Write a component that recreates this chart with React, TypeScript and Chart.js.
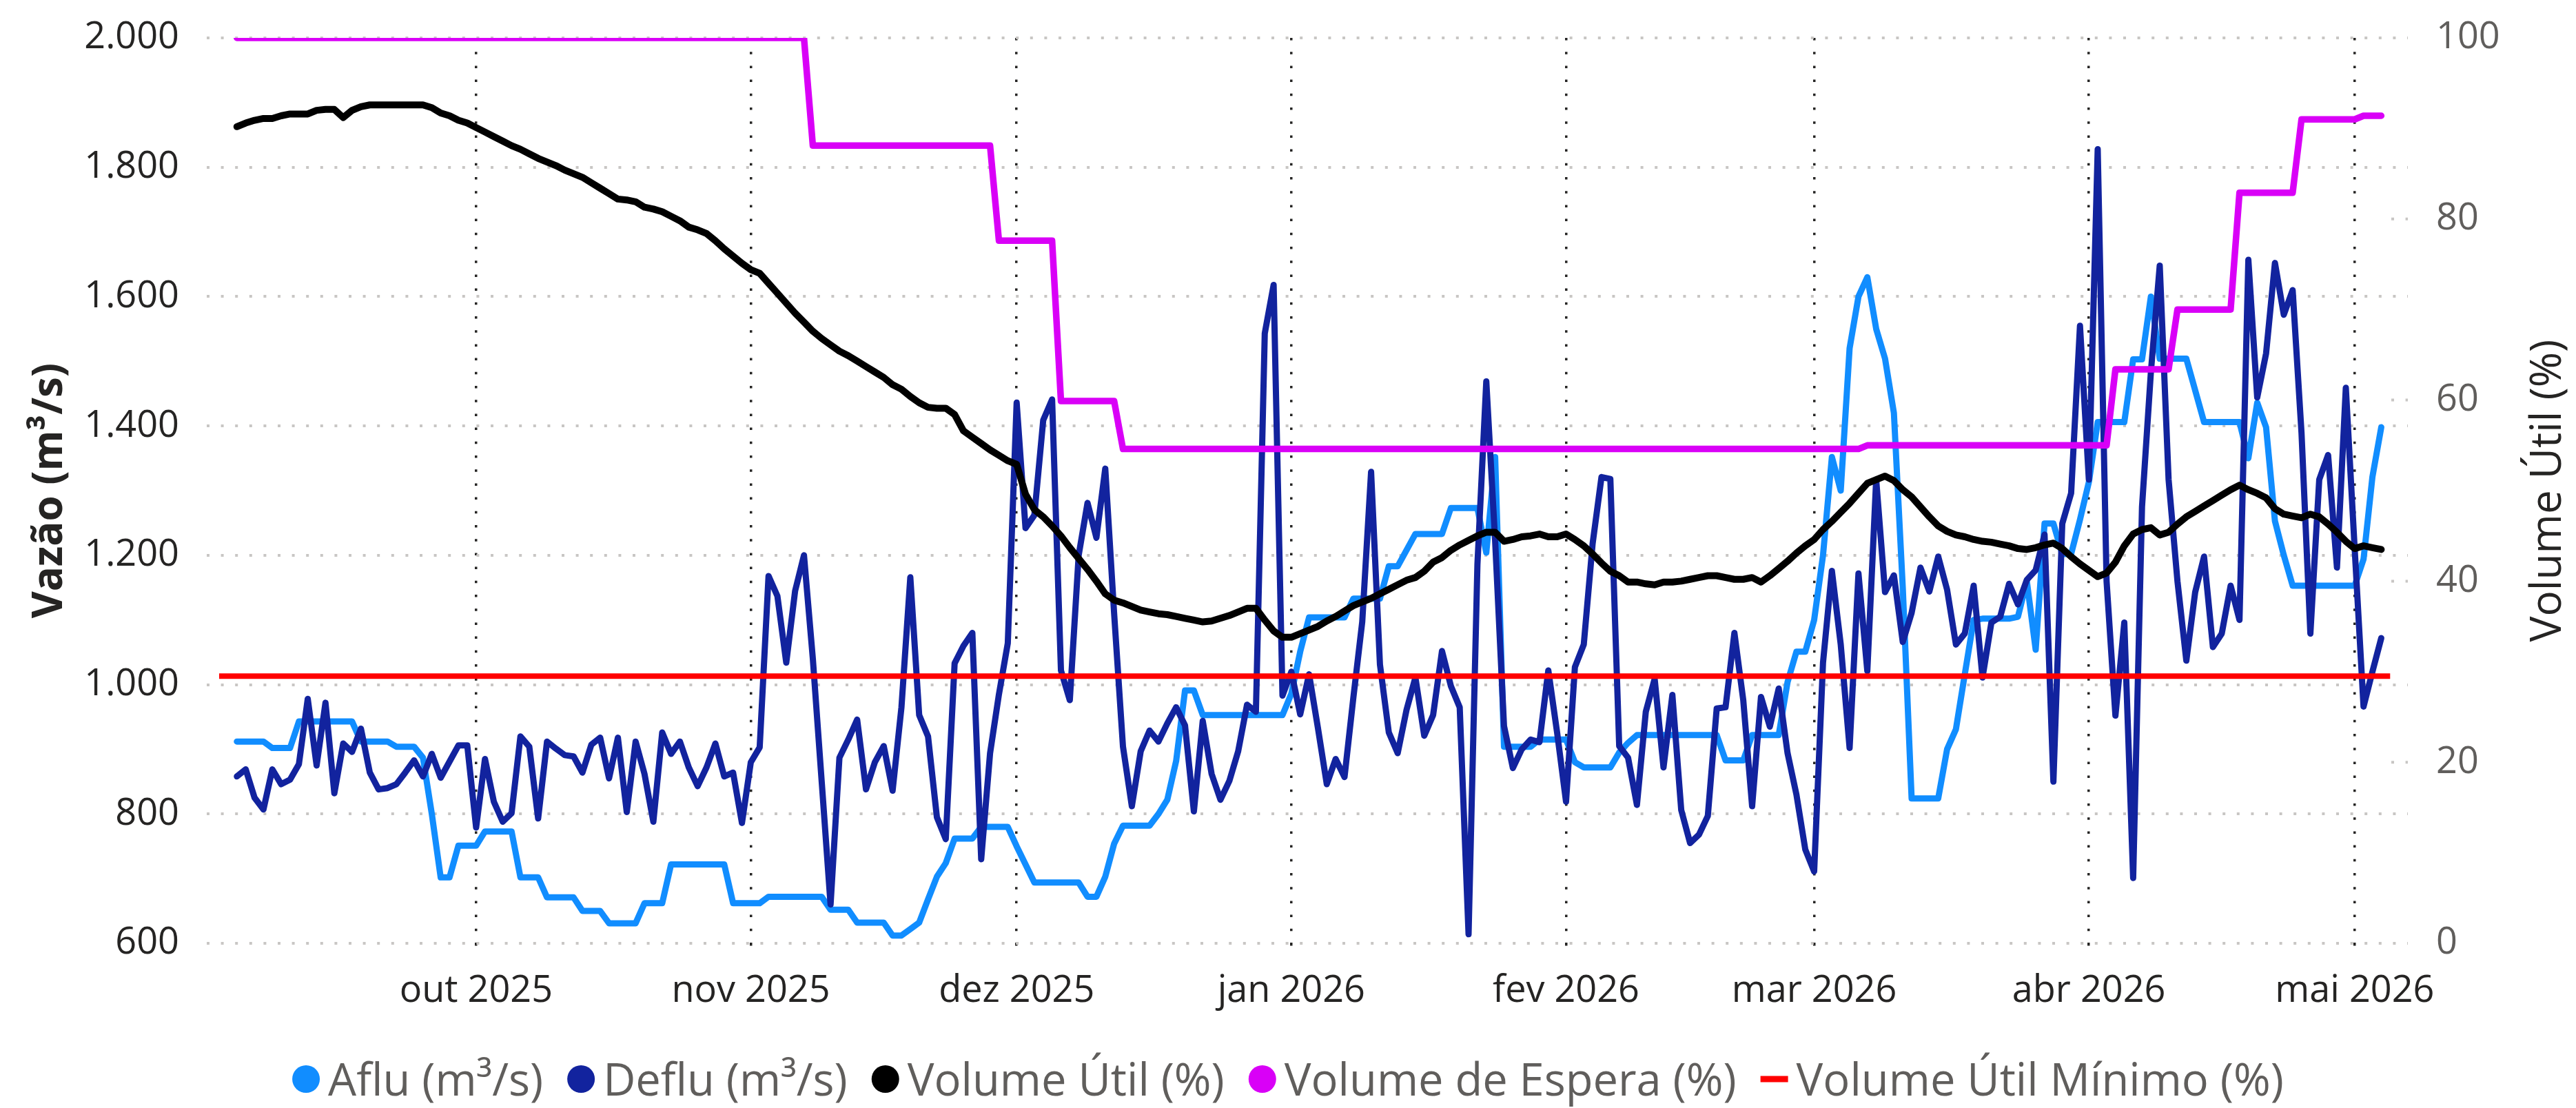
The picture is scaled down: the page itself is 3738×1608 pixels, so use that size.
import { useEffect, useRef } from 'react';
import { Chart, registerables } from 'chart.js';

Chart.register(...registerables);

const FONT = '"Segoe UI", "Open Sans", sans-serif';
const W = 3738;
const H = 1608;

// ---- categories / axis ----
const ORIGIN_DATE = '2025-10-01';
const START_DATE = '2025-09-04'; // first daily value
const MONTH_STARTS = ['2025-10-01', '2025-11-01', '2025-12-01', '2026-01-01', '2026-02-01', '2026-03-01', '2026-04-01', '2026-05-01'];
const MONTH_LABELS = ['out 2025', 'nov 2025', 'dez 2025', 'jan 2026', 'fev 2026', 'mar 2026', 'abr 2026', 'mai 2026'];
const MIN_LINE_DATES = ['2025-09-02', '2026-05-05'];
const VOLUME_UTIL_MINIMO = 29.5;

// ---- series (daily, from START_DATE) ----
const AFLU = [
  912, 912, 912, 912, 902, 902, 902, 943, 943, 943,
  943, 943, 943, 943, 912, 912, 912, 912, 904, 904,
  904, 887, 800, 702, 702, 751, 751, 751, 773, 773,
  773, 773, 702, 702, 702, 671, 671, 671, 671, 650,
  650, 650, 631, 631, 631, 631, 662, 662, 662, 722,
  722, 722, 722, 722, 722, 722, 662, 662, 662, 662,
  672, 672, 672, 672, 672, 672, 672, 652, 652, 652,
  632, 632, 632, 632, 612, 612, 622, 632, 668, 703,
  724, 762, 762, 762, 780, 780, 780, 780, 750, 722,
  694, 694, 694, 694, 694, 694, 672, 672, 703, 754,
  782, 782, 782, 782, 800, 822, 882, 991, 991, 953,
  953, 953, 953, 953, 953, 953, 953, 953, 953, 986,
  1051, 1104, 1104, 1104, 1104, 1104, 1133, 1133, 1133, 1133,
  1183, 1183, 1208, 1233, 1233, 1233, 1233, 1273, 1273, 1273,
  1273, 1204, 1352, 904, 904, 904, 904, 915, 915, 915,
  915, 880, 872, 872, 872, 872, 895, 910, 922, 922,
  922, 922, 922, 922, 922, 922, 922, 922, 883, 883,
  883, 922, 922, 922, 922, 1004, 1051, 1051, 1100, 1200,
  1352, 1300, 1520, 1600, 1630, 1550, 1504, 1420, 1150, 824,
  824, 824, 824, 900, 931, 1016, 1100, 1102, 1102, 1102,
  1102, 1105, 1160, 1054, 1249, 1249, 1202, 1202, 1255, 1313,
  1406, 1406, 1406, 1406, 1503, 1503, 1600, 1504, 1504, 1504,
  1504, 1455, 1406, 1406, 1406, 1406, 1406, 1350, 1436, 1398,
  1253, 1200, 1153, 1153, 1153, 1153, 1153, 1153, 1153, 1153,
  1194, 1321, 1398,
];

const DEFLU = [
  858, 869, 825, 807, 869, 846, 853, 877, 978, 875,
  972, 832, 909, 896, 932, 864, 838, 840, 846, 864,
  883, 858, 893, 856, 881, 906, 906, 779, 885, 819,
  788, 801, 920, 904, 793, 912, 901, 891, 889, 864,
  907, 918, 855, 918, 803, 912, 862, 788, 926, 893,
  912, 872, 843, 872, 909, 858, 864, 786, 880, 903,
  1168, 1137, 1034, 1145, 1200, 1040, 850, 660, 887, 915,
  946, 838, 880, 905, 836, 965, 1166, 953, 920, 795,
  761, 1033, 1060, 1080, 730, 894, 985, 1064, 1436, 1242,
  1262, 1409, 1441, 1022, 976, 1200, 1281, 1227, 1334, 1110,
  904, 812, 897, 929, 912, 940, 965, 937, 804, 944,
  862, 822, 851, 897, 969, 958, 1543, 1618, 983, 1020,
  954, 1016, 933, 846, 885, 857, 980, 1097, 1329, 1031,
  926, 894, 961, 1011, 921, 953, 1052, 998, 965, 614,
  1186, 1469, 1222, 936, 871, 900, 915, 911, 1022, 925,
  819, 1027, 1062, 1218, 1321, 1318, 905, 887, 814, 958,
  1009, 872, 984, 806, 755, 768, 797, 963, 965, 1080,
  976, 812, 981, 935, 994, 894, 830, 745, 711, 1034,
  1176, 1062, 902, 1172, 1021, 1317, 1143, 1169, 1066, 1111,
  1181, 1144, 1198, 1147, 1062, 1079, 1153, 1011, 1096, 1105,
  1156, 1124, 1162, 1177, 1232, 850, 1249, 1296, 1555, 1317,
  1828, 1160, 952, 1096, 701, 1275, 1483, 1648, 1317, 1160,
  1037, 1143, 1198, 1058, 1079, 1153, 1100, 1657, 1444, 1512,
  1652, 1572, 1610, 1389, 1079, 1317, 1355, 1181, 1459, 1210,
  966, 1020, 1072,
];

const VOLUME_UTIL = [
  90.2, 90.6, 90.9, 91.1, 91.1, 91.4, 91.6, 91.6, 91.6, 92.0,
  92.1, 92.1, 91.2, 92.0, 92.4, 92.6, 92.6, 92.6, 92.6, 92.6,
  92.6, 92.6, 92.3, 91.7, 91.4, 90.9, 90.6, 90.1, 89.6, 89.1,
  88.6, 88.1, 87.7, 87.2, 86.7, 86.3, 85.9, 85.4, 85.0, 84.6,
  84.0, 83.4, 82.8, 82.2, 82.1, 81.9, 81.3, 81.1, 80.8, 80.3,
  79.8, 79.1, 78.8, 78.4, 77.6, 76.7, 75.9, 75.1, 74.4, 74.0,
  72.9, 71.8, 70.7, 69.6, 68.6, 67.6, 66.8, 66.1, 65.4, 64.9,
  64.3, 63.7, 63.1, 62.5, 61.7, 61.2, 60.4, 59.7, 59.2, 59.1,
  59.1, 58.4, 56.6, 55.9, 55.2, 54.5, 53.9, 53.3, 52.9, 49.6,
  47.9, 47.1, 46.1, 45.0, 43.7, 42.5, 41.3, 40.0, 38.6, 37.9,
  37.6, 37.2, 36.8, 36.6, 36.4, 36.3, 36.1, 35.9, 35.7, 35.5,
  35.6, 35.9, 36.2, 36.6, 37.0, 37.0, 35.7, 34.5, 33.8, 33.8,
  34.2, 34.6, 35.0, 35.6, 36.1, 36.7, 37.3, 37.7, 38.1, 38.6,
  39.1, 39.6, 40.1, 40.4, 41.1, 42.1, 42.6, 43.4, 44.0, 44.5,
  45.0, 45.4, 45.4, 44.4, 44.6, 44.9, 45.0, 45.2, 44.9, 44.9,
  45.2, 44.6, 43.9, 43.0, 42.0, 41.1, 40.6, 39.9, 39.9, 39.7,
  39.6, 39.9, 39.9, 40.0, 40.2, 40.4, 40.6, 40.6, 40.4, 40.2,
  40.2, 40.4, 39.9, 40.6, 41.4, 42.2, 43.1, 43.9, 44.6, 45.7,
  46.6, 47.6, 48.6, 49.7, 50.8, 51.2, 51.6, 51.1, 50.1, 49.3,
  48.2, 47.1, 46.1, 45.5, 45.1, 44.9, 44.6, 44.4, 44.3, 44.1,
  43.9, 43.6, 43.5, 43.7, 44.0, 44.2, 43.6, 42.7, 41.9, 41.2,
  40.5, 40.9, 42.1, 43.9, 45.2, 45.7, 45.9, 45.1, 45.4, 46.3,
  47.1, 47.7, 48.3, 48.9, 49.5, 50.1, 50.6, 50.1, 49.7, 49.2,
  48.0, 47.4, 47.2, 47.0, 47.4, 47.1, 46.3, 45.4, 44.4, 43.6,
  43.9, 43.7, 43.5,
];

const VOLUME_ESPERA = [
  100, 100, 100, 100, 100, 100, 100, 100, 100, 100,
  100, 100, 100, 100, 100, 100, 100, 100, 100, 100,
  100, 100, 100, 100, 100, 100, 100, 100, 100, 100,
  100, 100, 100, 100, 100, 100, 100, 100, 100, 100,
  100, 100, 100, 100, 100, 100, 100, 100, 100, 100,
  100, 100, 100, 100, 100, 100, 100, 100, 100, 100,
  100, 100, 100, 100, 100, 88.1, 88.1, 88.1, 88.1, 88.1,
  88.1, 88.1, 88.1, 88.1, 88.1, 88.1, 88.1, 88.1, 88.1, 88.1,
  88.1, 88.1, 88.1, 88.1, 88.1, 88.1, 77.6, 77.6, 77.6, 77.6,
  77.6, 77.6, 77.6, 59.9, 59.9, 59.9, 59.9, 59.9, 59.9, 59.9,
  54.6, 54.6, 54.6, 54.6, 54.6, 54.6, 54.6, 54.6, 54.6, 54.6,
  54.6, 54.6, 54.6, 54.6, 54.6, 54.6, 54.6, 54.6, 54.6, 54.6,
  54.6, 54.6, 54.6, 54.6, 54.6, 54.6, 54.6, 54.6, 54.6, 54.6,
  54.6, 54.6, 54.6, 54.6, 54.6, 54.6, 54.6, 54.6, 54.6, 54.6,
  54.6, 54.6, 54.6, 54.6, 54.6, 54.6, 54.6, 54.6, 54.6, 54.6,
  54.6, 54.6, 54.6, 54.6, 54.6, 54.6, 54.6, 54.6, 54.6, 54.6,
  54.6, 54.6, 54.6, 54.6, 54.6, 54.6, 54.6, 54.6, 54.6, 54.6,
  54.6, 54.6, 54.6, 54.6, 54.6, 54.6, 54.6, 54.6, 54.6, 54.6,
  54.6, 54.6, 54.6, 54.6, 55.0, 55.0, 55.0, 55.0, 55.0, 55.0,
  55.0, 55.0, 55.0, 55.0, 55.0, 55.0, 55.0, 55.0, 55.0, 55.0,
  55.0, 55.0, 55.0, 55.0, 55.0, 55.0, 55.0, 55.0, 55.0, 55.0,
  55.0, 55.0, 63.4, 63.4, 63.4, 63.4, 63.4, 63.4, 63.4, 70.0,
  70.0, 70.0, 70.0, 70.0, 70.0, 70.0, 82.9, 82.9, 82.9, 82.9,
  82.9, 82.9, 82.9, 91.0, 91.0, 91.0, 91.0, 91.0, 91.0, 91.0,
  91.4, 91.4, 91.4,
];

// ---- helpers ----
const DAY_MS = 86400000;
const dayOf = (s: string) => (Date.parse(s + 'T00:00:00Z') - Date.parse(ORIGIN_DATE + 'T00:00:00Z')) / DAY_MS;
const START = dayOf(START_DATE);
const MONTH_DAYS = MONTH_STARTS.map(dayOf);
const toPoints = (arr: number[]) => arr.map((y, i) => ({ x: START + i, y }));
const fmtThousands = (v: number) =>
  v >= 1000 ? `${Math.floor(v / 1000)}.${String(v % 1000).padStart(3, '0')}` : String(v);

const overlayPlugin = {
  id: 'overlay',
  beforeDatasetsDraw(chart: any) {
    const { ctx, chartArea, scales } = chart;
    const yR = scales.yRight;
    ctx.save();
    ctx.strokeStyle = '#C8C6C4';
    ctx.lineWidth = 4;
    ctx.setLineDash([4, 16.6]);
    for (const v of [20, 40, 60, 80]) {
      const y = yR.getPixelForValue(v);
      ctx.beginPath();
      ctx.moveTo(chartArea.right - 24, y);
      ctx.lineTo(chartArea.right, y);
      ctx.stroke();
    }
    ctx.restore();
  },
  afterDraw(chart: any) {
    const { ctx, chartArea } = chart;
    const cy = (chartArea.top + chartArea.bottom) / 2;
    ctx.save();
    // axis titles
    ctx.fillStyle = '#252423';
    ctx.textAlign = 'center';
    ctx.textBaseline = 'alphabetic';
    ctx.save();
    ctx.translate(90, cy);
    ctx.rotate(-Math.PI / 2);
    ctx.font = `bold 60px ${FONT}`;
    ctx.fillText('Vazão (m³/s)', 0, 0);
    ctx.restore();
    ctx.save();
    ctx.translate(3716, cy);
    ctx.rotate(-Math.PI / 2);
    ctx.font = `62px ${FONT}`;
    ctx.fillText('Volume Útil (%)', 0, 0);
    ctx.restore();

    // legend
    const items = chart.data.datasets;
    const R = 20;
    const GAP = 12;
    const SEP = 35;
    ctx.font = `65px ${FONT}`;
    const widths = items.map((d: any) => 2 * R + GAP + ctx.measureText(d.label).width);
    const total = widths.reduce((a: number, b: number) => a + b, 0) + SEP * (items.length - 1);
    let x = W / 2 - total / 2;
    const my = 1566;
    const by = 1590;
    ctx.textAlign = 'left';
    items.forEach((d: any, i: number) => {
      ctx.fillStyle = d.borderColor;
      if (d.legendMarker === 'line') {
        ctx.fillRect(x, my - 4.5, 2 * R, 9);
      } else {
        ctx.beginPath();
        ctx.arc(x + R, my, R, 0, Math.PI * 2);
        ctx.fill();
      }
      ctx.fillStyle = '#605E5C';
      ctx.fillText(d.label, x + 2 * R + GAP, by);
      x += widths[i] + SEP;
    });
    ctx.restore();
  },
};

const lineStyle = {
  pointRadius: 0,
  pointHoverRadius: 0,
  borderJoinStyle: 'round' as const,
  borderCapStyle: 'round' as const,
  tension: 0,
  fill: false,
};

export default function App() {
  const ref = useRef<HTMLCanvasElement | null>(null);

  useEffect(() => {
    document.body.style.margin = '0';
    document.body.style.background = '#ffffff';
    const canvas = ref.current;
    if (!canvas) return;
    const tickFont = { family: FONT, size: 54 };
    const chart = new Chart(canvas, {
      type: 'line',
      data: {
        datasets: [
          { label: 'Aflu (m³/s)', data: toPoints(AFLU), yAxisID: 'y', borderColor: '#118DFF', backgroundColor: '#118DFF', borderWidth: 9, order: 4, ...lineStyle },
          { label: 'Deflu (m³/s)', data: toPoints(DEFLU), yAxisID: 'y', borderColor: '#12239E', backgroundColor: '#12239E', borderWidth: 9, order: 3, ...lineStyle },
          { label: 'Volume Útil (%)', data: toPoints(VOLUME_UTIL), yAxisID: 'yRight', borderColor: '#000000', backgroundColor: '#000000', borderWidth: 10, order: 2, ...lineStyle },
          { label: 'Volume de Espera (%)', data: toPoints(VOLUME_ESPERA), yAxisID: 'yRight', borderColor: '#D900F7', backgroundColor: '#D900F7', borderWidth: 9.5, order: 1, ...lineStyle },
          {
            label: 'Volume Útil Mínimo (%)',
            data: MIN_LINE_DATES.map((s) => ({ x: dayOf(s), y: VOLUME_UTIL_MINIMO })),
            yAxisID: 'yRight', borderColor: '#FF0000', backgroundColor: '#FF0000', borderWidth: 8, order: 0,
            legendMarker: 'line',
            ...lineStyle,
            borderCapStyle: 'butt' as const,
          } as any,
        ],
      },
      options: {
        responsive: false,
        maintainAspectRatio: false,
        animation: false,
        devicePixelRatio: 1,
        events: [],
        layout: { padding: { top: 55, left: 0, right: 0, bottom: 0 } },
        plugins: { legend: { display: false }, tooltip: { enabled: false }, title: { display: false } },
        scales: {
          x: {
            type: 'linear',
            min: -30.4,
            max: 218,
            afterBuildTicks: (s: any) => {
              s.ticks = MONTH_DAYS.map((v) => ({ value: v }));
            },
            afterFit: (s: any) => {
              s.height = 239;
            },
            ticks: {
              autoSkip: false,
              maxRotation: 0,
              minRotation: 0,
              padding: 23,
              color: '#252423',
              font: tickFont,
              callback: (v: any) => {
                const i = MONTH_DAYS.indexOf(Number(v));
                return i >= 0 ? MONTH_LABELS[i] : '';
              },
            },
            grid: {
              color: '#252423',
              lineWidth: 3.5,
              drawTicks: true,
              tickLength: 14,
              tickColor: '#252423',
              tickWidth: 3.5,
              tickBorderDash: [3.5, 16.7],
            },
            border: { display: false, dash: [3.5, 16.7] },
          },
          y: {
            type: 'linear',
            position: 'left',
            min: 600,
            max: 2000,
            afterFit: (s: any) => {
              s.width = 300;
            },
            ticks: {
              stepSize: 200,
              padding: 0,
              color: '#252423',
              font: tickFont,
              callback: (v: any) => fmtThousands(Number(v)),
            },
            grid: { color: '#C8C6C4', lineWidth: 4, drawTicks: true, tickLength: 40, tickColor: 'rgba(0,0,0,0)' },
            border: { display: false, dash: [4, 16.6] },
          },
          yRight: {
            type: 'linear',
            position: 'right',
            min: 0,
            max: 100,
            afterFit: (s: any) => {
              s.width = 244;
            },
            ticks: { stepSize: 20, padding: 0, color: '#605E5C', font: tickFont },
            grid: { display: false, drawOnChartArea: false, drawTicks: true, tickLength: 41, tickColor: 'rgba(0,0,0,0)' },
            border: { display: false },
          },
        },
      } as any,
      plugins: [overlayPlugin],
    });
    return () => chart.destroy();
  }, []);

  return <canvas ref={ref} width={W} height={H} style={{ display: 'block', width: W, height: H }} />;
}
